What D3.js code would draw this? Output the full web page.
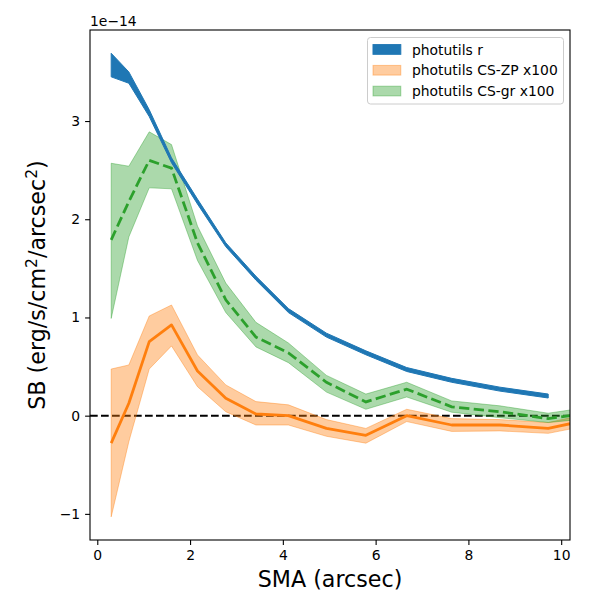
<!DOCTYPE html>
<html>
<head>
<meta charset="utf-8">
<script src="https://cdn.jsdelivr.net/npm/d3@7"></script>
<style>
	body { margin: 0; background: #fff; }
	svg text { font-family: "DejaVu Sans", sans-serif; fill: #000; }
</style>
</head>
<body>
<svg id="chart" width="600" height="600"></svg>
<script>
// semi-major axis (arcsec)
var sma = [0.30, 0.68, 1.12, 1.60, 2.16, 2.77, 3.42, 4.12, 4.94, 5.79, 6.67, 7.64, 8.68, 9.72, 10.8];

// photutils r (units of 1e-14), band only
var rLo = [3.45, 3.385, 3.045, 2.575, 2.155, 1.72, 1.38, 1.05, 0.80, 0.62, 0.45, 0.34, 0.25, 0.18];
var rHi = [3.69, 3.50, 3.115, 2.625, 2.205, 1.76, 1.42, 1.09, 0.84, 0.66, 0.49, 0.38, 0.29, 0.22];

// photutils CS-ZP x100
var zpMid = [-0.28, 0.126, 0.754, 0.924, 0.455, 0.177, 0.017, 0.0, -0.13, -0.20, 0.0, -0.095, -0.095, -0.13, -0.02];
var zpLo = [-1.03, -0.265, 0.475, 0.71, 0.295, 0.04, -0.095, -0.095, -0.21, -0.28, -0.06, -0.16, -0.155, -0.18, -0.08];
var zpHi = [0.475, 0.516, 1.015, 1.127, 0.618, 0.313, 0.143, 0.11, -0.04, -0.13, 0.065, -0.03, -0.04, -0.07, 0.04];

// photutils CS-gr x100
var grMid = [1.79, 2.18, 2.60, 2.52, 1.76, 1.18, 0.80, 0.64, 0.34, 0.14, 0.27, 0.09, 0.04, -0.03, 0.04];
var grLo = [0.99, 1.82, 2.32, 2.31, 1.58, 1.05, 0.70, 0.54, 0.24, 0.065, 0.19, 0.035, -0.02, -0.07, -0.02];
var grHi = [2.57, 2.54, 2.89, 2.76, 1.93, 1.35, 0.95, 0.74, 0.41, 0.22, 0.34, 0.15, 0.10, 0.025, 0.10];

var xTicks = [0, 2, 4, 6, 8, 10];
var yTicks = [-1, 0, 1, 2, 3];
var legendLabels = ["photutils r", "photutils CS-ZP x100", "photutils CS-gr x100"];

var colors = { r: "#1f77b4", zp: "#ff7f0e", gr: "#2ca02c" };

var margin = { top: 30, right: 30, bottom: 60, left: 90 },
	width = 600 - margin.left - margin.right,
	height = 600 - margin.top - margin.bottom;

var svg = d3.select("#chart");
var g = svg.append("g")
	.attr("transform", "translate(" + margin.left + "," + margin.top + ")");

var x = d3.scaleLinear().domain([-0.157, 10.19]).range([0, width]);
var y = d3.scaleLinear().domain([-1.266, 3.927]).range([height, 0]);

g.append("clipPath").attr("id", "clip")
	.append("rect").attr("width", width).attr("height", height);

var plot = g.append("g").attr("clip-path", "url(#clip)");

function band(lo, hi) {
	return d3.area()
		.x(function (d, i) { return x(sma[i]); })
		.y0(function (d, i) { return y(lo[i]); })
		.y1(function (d, i) { return y(hi[i]); })(lo);
}
function line(vals) {
	return d3.line()
		.x(function (d, i) { return x(sma[i]); })
		.y(function (d) { return y(d); })(vals);
}

// zero line
plot.append("line")
	.attr("x1", 0).attr("x2", width)
	.attr("y1", y(0)).attr("y2", y(0))
	.attr("stroke", "#000").attr("stroke-width", 2.08)
	.attr("stroke-dasharray", "7.7,3.3");

// CS-ZP
plot.append("path").attr("d", band(zpLo, zpHi))
	.attr("fill", colors.zp).attr("fill-opacity", 0.4)
	.attr("stroke", colors.zp).attr("stroke-opacity", 0.4).attr("stroke-width", 1);
plot.append("path").attr("d", line(zpMid))
	.attr("fill", "none").attr("stroke", colors.zp).attr("stroke-width", 2.78)
	.attr("stroke-linejoin", "round");

// CS-gr
plot.append("path").attr("d", band(grLo, grHi))
	.attr("fill", colors.gr).attr("fill-opacity", 0.4)
	.attr("stroke", colors.gr).attr("stroke-opacity", 0.4).attr("stroke-width", 1);
plot.append("path").attr("d", line(grMid))
	.attr("fill", "none").attr("stroke", colors.gr).attr("stroke-width", 2.78)
	.attr("stroke-dasharray", "10.3,4.4");

// r band
plot.append("path").attr("d", band(rLo, rHi))
	.attr("fill", colors.r).attr("stroke", colors.r).attr("stroke-width", 1);

// axes
var xAxis = g.append("g")
	.attr("transform", "translate(0," + height + ")")
	.call(d3.axisBottom(x).tickValues(xTicks).tickSizeOuter(0).tickSize(4.9).tickPadding(4.9));
var yAxis = g.append("g")
	.call(d3.axisLeft(y).tickValues(yTicks).tickSizeOuter(0).tickSize(4.9).tickPadding(4.9)
		.tickFormat(function (d) { return d < 0 ? "\u2212" + Math.abs(d) : d; }));

[xAxis, yAxis].forEach(function (a) {
	a.select(".domain").remove();
	a.selectAll(".tick line").attr("stroke", "#000").attr("stroke-width", 1.1);
	a.selectAll(".tick text").attr("font-size", "13.9px").attr("font-family", "DejaVu Sans");
});

// spines
g.append("rect")
	.attr("width", width).attr("height", height)
	.attr("fill", "none").attr("stroke", "#000").attr("stroke-width", 1.1);

// offset text
g.append("text").attr("x", 0).attr("y", -4)
	.attr("font-size", "13.9px").text("1e\u221214");

// axis labels
svg.append("text")
	.attr("x", margin.left + width / 2).attr("y", 587)
	.attr("text-anchor", "middle").attr("font-size", "22.2px")
	.text("SMA (arcsec)");

var yl = svg.append("text")
	.attr("transform", "translate(45," + (margin.top + height / 2) + ") rotate(-90)")
	.attr("text-anchor", "middle").attr("font-size", "22.2px");
yl.append("tspan").text("SB (erg/s/cm");
yl.append("tspan").attr("font-size", "15.5px").attr("dy", -8).text("2");
yl.append("tspan").attr("dy", 8).text("/arcsec");
yl.append("tspan").attr("font-size", "15.5px").attr("dy", -8).text("2");
yl.append("tspan").attr("dy", 8).text(")");

// legend
var leg = svg.append("g").attr("transform", "translate(367.5,37.5)");
leg.append("rect")
	.attr("width", 196).attr("height", 66.5).attr("rx", 3)
	.attr("fill", "#fff").attr("fill-opacity", 0.8)
	.attr("stroke", "#ccc").attr("stroke-width", 1);
var legItems = [
	{ c: colors.r, op: 1 },
	{ c: colors.zp, op: 0.4 },
	{ c: colors.gr, op: 0.4 }
];
legItems.forEach(function (d, i) {
	var cy = 12 + i * 20.8;
	leg.append("rect")
		.attr("x", 5.5).attr("y", cy - 4.9).attr("width", 27.8).attr("height", 9.7)
		.attr("fill", d.c).attr("fill-opacity", d.op)
		.attr("stroke", d.c).attr("stroke-opacity", d.op).attr("stroke-width", 1);
	leg.append("text")
		.attr("x", 44.5).attr("y", cy + 5)
		.attr("font-size", "13.9px").text(legendLabels[i]);
});
</script>
</body>
</html>
